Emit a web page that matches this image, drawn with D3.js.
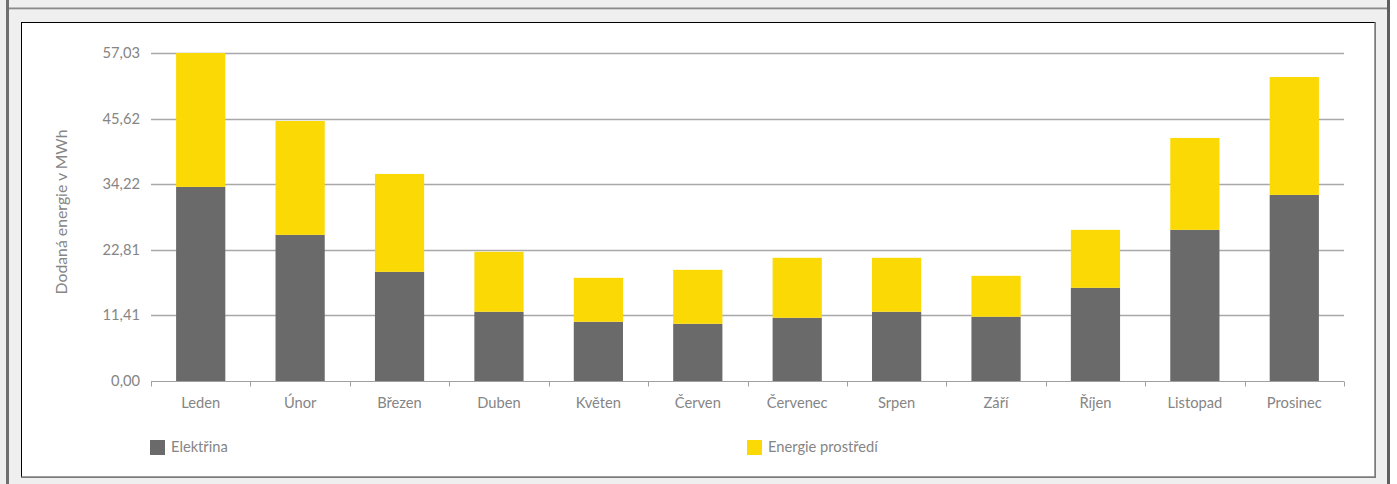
<!DOCTYPE html>
<html>
<head>
<meta charset="utf-8">
<script src="https://cdn.jsdelivr.net/npm/d3@7"></script>
<style>
  html, body { margin: 0; padding: 0; background: #ffffff; }
  svg { display: block; font-family: Lato, "Open Sans", sans-serif; }
</style>
</head>
<body>
<svg id="chart" width="1397" height="484"></svg>
<script>
// ---- data ----
const months = ["Leden", "Únor", "Březen", "Duben", "Květen", "Červen", "Červenec", "Srpen", "Září", "Říjen", "Listopad", "Prosinec"];
const elektrina = [33.75, 25.41, 18.98, 12.04, 10.30, 9.95, 10.99, 12.04, 11.17, 16.20, 26.28, 32.36];
const energieProstredi = [23.28, 19.80, 17.02, 10.42, 7.64, 9.38, 10.43, 9.38, 7.12, 10.08, 15.98, 20.49];
const yMax = 57.03;
const yTickLabels = ["0,00", "11,41", "22,81", "34,22", "45,62", "57,03"];
const seriesNames = ["Elektřina", "Energie prostředí"];
const yTitle = "Dodaná energie v MWh";

// ---- layout ----
const svg = d3.select("#chart");
const W = 1397, H = 484;
const plot = { left: 151, right: 1344, top: 53, bottom: 381 };
const colors = { el: "#6a6a6b", env: "#fbd904" };
const textColor = "#858585";
const fs = 14.7;

// page background and frames
svg.append("rect").attr("x", 0).attr("y", 0).attr("width", 1390).attr("height", H).attr("fill", "#efefef");
svg.append("rect").attr("x", 6).attr("y", 0).attr("width", 3).attr("height", H).attr("fill", "#6f6f6f");
svg.append("rect").attr("x", 1387).attr("y", 0).attr("width", 3).attr("height", H).attr("fill", "#5f5f5f");
svg.append("rect").attr("x", 9).attr("y", 7.5).attr("width", 1378).attr("height", 1.5).attr("fill", "#8a8a8a");
svg.append("rect").attr("x", 9).attr("y", 9).attr("width", 1378).attr("height", 1).attr("fill", "#cfcfcf");
// inner white box with shadowed right/bottom border
svg.append("rect").attr("x", 21).attr("y", 22).attr("width", 1355).attr("height", 456).attr("fill", "#7a7a7a");
svg.append("rect").attr("x", 21).attr("y", 22).attr("width", 1353.5).attr("height", 454.5).attr("fill", "#000");
svg.append("rect").attr("x", 22).attr("y", 23).attr("width", 1352.5).attr("height", 453.5).attr("fill", "#ffffff");

// ---- scales ----
const x = d3.scaleBand().domain(months).range([plot.left, plot.right]).padding(0);
const y = d3.scaleLinear().domain([0, yMax]).range([plot.bottom, plot.top]);
const yTicks = d3.range(6).map(i => i * yMax / 5);

// gridlines
svg.append("g").selectAll("line").data(yTicks.slice(1)).join("line")
  .attr("x1", plot.left).attr("x2", plot.right)
  .attr("y1", d => Math.round(y(d)) + 0.5).attr("y2", d => Math.round(y(d)) + 0.5)
  .attr("stroke", "#a8a8a8").attr("stroke-width", 1.3);

// y tick labels
svg.append("g").selectAll("text").data(yTicks).join("text")
  .attr("x", 140).attr("y", d => y(d) + 5)
  .attr("text-anchor", "end").attr("font-size", fs).attr("fill", textColor)
  .text((d, i) => yTickLabels[i]);

// stacked bars
const stackData = months.map((m, i) => ({ month: m, el: elektrina[i], env: energieProstredi[i] }));
const stacked = d3.stack().keys(["el", "env"])(stackData);
const barW = x.bandwidth() * 0.495;
svg.append("g").selectAll("g").data(stacked).join("g")
  .attr("fill", d => colors[d.key])
  .selectAll("rect").data(d => d).join("rect")
  .attr("x", d => x(d.data.month) + (x.bandwidth() - barW) / 2)
  .attr("width", barW)
  .attr("y", d => y(d[1]))
  .attr("height", d => y(d[0]) - y(d[1]));

// x axis
const xAxis = svg.append("g").attr("transform", `translate(0,${Math.round(plot.bottom) + 0.5})`);
xAxis.append("line").attr("x1", plot.left).attr("x2", plot.right).attr("stroke", "#a0a0a0").attr("stroke-width", 1.2);
const boundaries = months.map(m => x(m)).concat([plot.right]);
xAxis.selectAll("line.tick").data(boundaries).join("line").attr("class", "tick")
  .attr("x1", d => Math.round(d) + 0.5).attr("x2", d => Math.round(d) + 0.5)
  .attr("y1", 0).attr("y2", 5).attr("stroke", "#a0a0a0");
svg.append("g").selectAll("text").data(months).join("text")
  .attr("x", d => x(d) + x.bandwidth() / 2).attr("y", 408)
  .attr("text-anchor", "middle").attr("font-size", fs).attr("fill", textColor)
  .text(d => d);

// y axis title
svg.append("text")
  .attr("transform", `translate(67,212) rotate(-90)`)
  .attr("text-anchor", "middle").attr("font-size", 15.8).attr("fill", textColor)
  .text(yTitle);

// legend
const legendX = [150, 747];
const legendColors = [colors.el, colors.env];
const lg = svg.append("g").selectAll("g").data(seriesNames).join("g")
  .attr("transform", (d, i) => `translate(${legendX[i]},440)`);
lg.append("rect").attr("width", 15).attr("height", 15).attr("fill", (d, i) => legendColors[i]);
lg.append("text").attr("x", 21).attr("y", 11.5).attr("font-size", fs).attr("fill", textColor).text(d => d);
</script>
</body>
</html>
